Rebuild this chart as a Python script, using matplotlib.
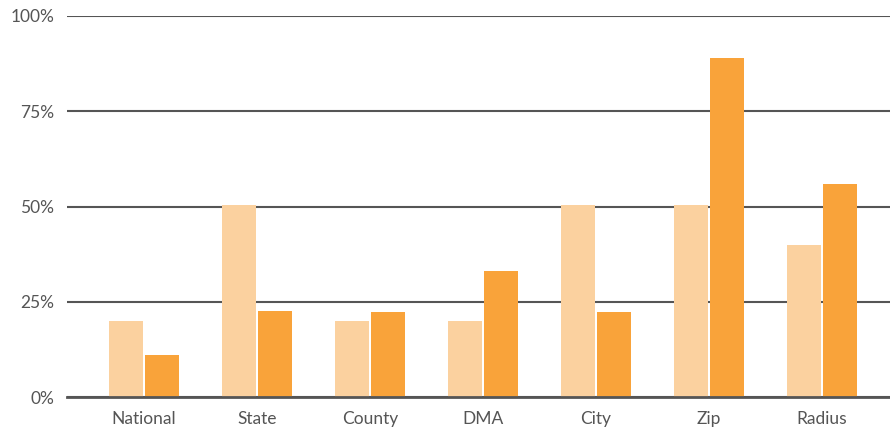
import numpy as np
import matplotlib.pyplot as plt

categories = ["National", "State", "County", "DMA", "City", "Zip", "Radius"]
light_vals = [20, 50.5, 20, 20, 50.5, 50.5, 40]
dark_vals = [11, 22.5, 22.3, 33, 22.3, 89, 56]
yticks = [0, 25, 50, 75, 100]
ylabels = ["0%", "25%", "50%", "75%", "100%"]

fig = plt.figure(figsize=(8.9, 4.3), dpi=100)
ax = fig.add_axes([67 / 890, 33 / 430, 823 / 890, 381 / 430])

x = np.arange(len(categories))
w = 0.30
ax.bar(x - w / 2 - 0.009, light_vals, width=w, color="#FBD19F", zorder=2)
ax.bar(x + w / 2 + 0.009, dark_vals, width=w, color="#F9A33A", zorder=2)

ax.set_xlim(-0.68, 6.60)
ax.set_ylim(0, 100)
ax.set_yticks(yticks)
ax.set_yticklabels(ylabels)
ax.set_xticks(x)
ax.set_xticklabels(categories)
ax.yaxis.grid(True, color="#555555", linewidth=1.5, zorder=1)
ax.set_axisbelow(True)
ax.tick_params(length=0, labelsize=12.5, labelcolor="#555555")
ax.tick_params(axis="x", pad=10)
ax.tick_params(axis="y", pad=9)
for lab in ax.get_xticklabels() + ax.get_yticklabels():
    lab.set_family("Lato")
for s in ["top", "right", "left"]:
    ax.spines[s].set_visible(False)
ax.spines["bottom"].set_color("#555555")
ax.spines["bottom"].set_linewidth(2)
ax.spines["bottom"].set_zorder(3)

fig.savefig("out.png", dpi=100)
